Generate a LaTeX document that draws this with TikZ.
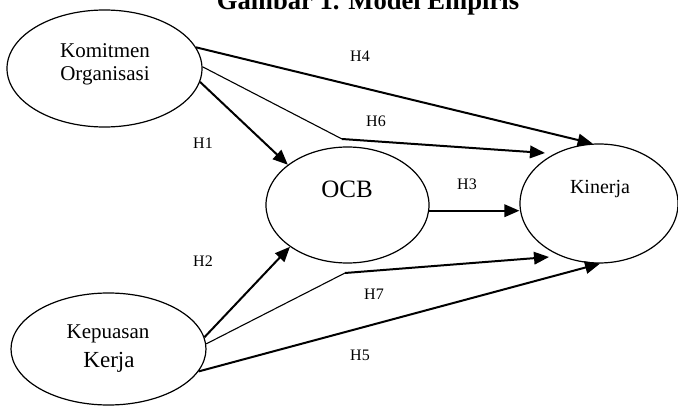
\documentclass[tikz,border=0pt]{standalone}
\usepackage{fontspec}
\setmainfont{Liberation Serif}
\usetikzlibrary{shapes.geometric,arrows.meta}
\begin{document}
\begin{tikzpicture}[x=1pt,y=-1pt,
    var/.style={draw,ellipse,line width=1.2pt,inner sep=0pt},
    t/.style={anchor=base,inner sep=0pt,font=\fontsize{21}{23}\selectfont},
    h/.style={anchor=base,inner sep=0pt,font=\fontsize{16}{18}\selectfont},
    link/.style={line width=2pt,-{Triangle[length=15pt,width=12.5pt]}},
    lead/.style={line width=1.1pt}]
\useasboundingbox (0,0) rectangle (678,406);
\node[anchor=base,inner sep=0pt,font=\fontsize{26.6}{30}\selectfont\bfseries]
    (title) at (368,9.5) {Gambar 1. Model Empiris};
% variables
\node[var,minimum width=195pt,minimum height=117pt] (kom) at (104.5,68.5) {};
\node[var,minimum width=163pt,minimum height=116pt] (ocb) at (347.5,205) {};
\node[var,minimum width=158pt,minimum height=119pt] (kin) at (599,203.5) {};
\node[var,minimum width=195pt,minimum height=112pt] (kep) at (108.5,349) {};
\node[t] (kom1) at (105,58) {Komitmen};
\node[t] (kom2) at (105,81) {Organisasi};
\node[t,font=\fontsize{25}{28}\selectfont] (ocbt) at (347,198) {OCB};
\node[t,font=\fontsize{20}{22}\selectfont] (kint) at (600,194) {Kinerja};
\node[t] (kep1) at (108,339) {Kepuasan};
\node[t,font=\fontsize{23}{26}\selectfont] (kep2) at (109,367) {Kerja};
% bends of the indirect paths
\coordinate (h6bend) at (342,139);
\coordinate (h6end) at (545,153);
\coordinate (h7bend) at (345,273);
\coordinate (h7end) at (549,257);
% paths
\draw[link] (kom.13.4) -- (kin.96);
\draw[link] (kom.-8) -- (ocb.146);
\draw[lead] (kom.1) -- (h6bend);
\draw[link] (h6bend) -- (h6end);
\draw[link] (ocb.-4) -- (ocb.-4 -| kin.west);
\draw[link] (kep.7.2) -- (ocb.-144.8);
\draw[lead] (kep.3.5) -- (h7bend);
\draw[link] (h7bend) -- (h7end);
\draw[link] (kep.-14) -- (kin.-89);
% hypotheses
\node[h] (h1) at (203,149) {H1};
\node[h] (h2) at (203,267) {H2};
\node[h] (h3) at (467,190) {H3};
\node[h] (h4) at (360,62) {H4};
\node[h] (h5) at (360,360) {H5};
\node[h] (h6) at (376,127) {H6};
\node[h] (h7) at (374,300) {H7};
\end{tikzpicture}
\end{document}
